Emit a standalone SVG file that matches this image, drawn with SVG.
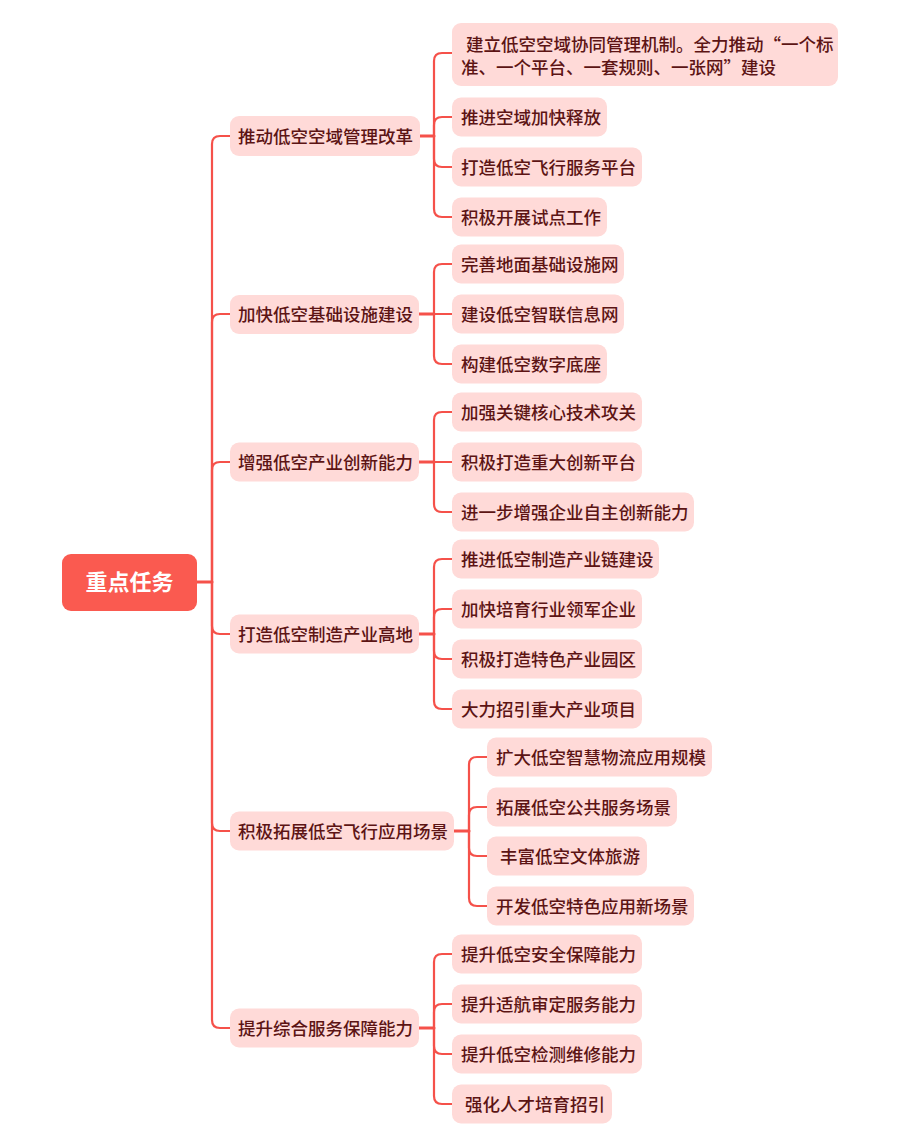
<svg xmlns="http://www.w3.org/2000/svg" width="902" height="1144" viewBox="0 0 902 1144">
<style>
.n rect{fill:#FFDAD8}
.n text{font-family:"Noto Sans CJK SC","Liberation Sans",sans-serif;font-size:17.5px;font-weight:500;fill:#5C1414}
.root rect{fill:#FA5A50}
.root text{font-family:"Noto Sans CJK SC","Liberation Sans",sans-serif;font-size:22px;font-weight:bold;fill:#FFFFFF}
.c path{fill:none;stroke:#F5514A;stroke-width:2.2;stroke-linecap:round}
.c path.s{stroke-width:3}
</style>
<rect width="902" height="1144" fill="#FFFFFF"/>
<g class="c" id="connectors">
<path class="s" d="M197,582 H212"/>
<path d="M212,582 V144 Q212,136 220,136 H230"/>
<path d="M212,582 V322 Q212,314 220,314 H230"/>
<path d="M212,582 V470 Q212,462 220,462 H230"/>
<path d="M212,582 V626 Q212,634 220,634 H230"/>
<path d="M212,582 V823 Q212,831 220,831 H230"/>
<path d="M212,582 V1020 Q212,1028 220,1028 H230"/>
<path class="s" d="M420,136 H434"/>
<path d="M434,136 V61 Q434,53 442,53 H452"/>
<path d="M434,136 V125 Q434,117 442,117 H452"/>
<path d="M434,136 V159 Q434,167 442,167 H452"/>
<path d="M434,136 V209 Q434,217 442,217 H452"/>
<path class="s" d="M419,314 H434"/>
<path d="M434,314 V272 Q434,264 442,264 H452"/>
<path d="M434,314 H452"/>
<path d="M434,314 V356 Q434,364 442,364 H452"/>
<path class="s" d="M419,462 H434"/>
<path d="M434,462 V420 Q434,412 442,412 H452"/>
<path d="M434,462 H452"/>
<path d="M434,462 V504 Q434,512 442,512 H452"/>
<path class="s" d="M419,634 H434"/>
<path d="M434,634 V567 Q434,559 442,559 H452"/>
<path d="M434,634 V617 Q434,609 442,609 H452"/>
<path d="M434,634 V651 Q434,659 442,659 H452"/>
<path d="M434,634 V701 Q434,709 442,709 H452"/>
<path class="s" d="M454,831 H469"/>
<path d="M469,831 V765 Q469,757 477,757 H487"/>
<path d="M469,831 V815 Q469,807 477,807 H487"/>
<path d="M469,831 V848 Q469,856 477,856 H487"/>
<path d="M469,831 V898 Q469,906 477,906 H487"/>
<path class="s" d="M419,1028 H434"/>
<path d="M434,1028 V962 Q434,954 442,954 H452"/>
<path d="M434,1028 V1012 Q434,1004 442,1004 H452"/>
<path d="M434,1028 V1046 Q434,1054 442,1054 H452"/>
<path d="M434,1028 V1096 Q434,1104 442,1104 H452"/>
</g>
<g class="root" id="root"><rect x="62" y="554" width="135" height="57" rx="9"/><text x="129.5" y="590" text-anchor="middle">重点任务</text></g>

<g class="n" id="a"><rect x="230" y="116" width="190" height="40" rx="9"/><text x="238" y="142.5">推动低空空域管理改革</text></g>
<g class="n" id="a1"><rect x="452" y="23" width="386" height="63" rx="9"/><text x="466" y="51">建立低空空域协同管理机制。全力推动“一个标</text><text x="461" y="74">准、一个平台、一套规则、一张网”建设</text></g>
<g class="n" id="a2"><rect x="452" y="97.5" width="155" height="39" rx="9"/><text x="461" y="123.5">推进空域加快释放</text></g>
<g class="n" id="a3"><rect x="452" y="147.5" width="190" height="39" rx="9"/><text x="461" y="173.5">打造低空飞行服务平台</text></g>
<g class="n" id="a4"><rect x="452" y="197.5" width="155" height="39" rx="9"/><text x="461" y="223.5">积极开展试点工作</text></g>

<g class="n" id="b"><rect x="230" y="295" width="189" height="39" rx="9"/><text x="238" y="321">加快低空基础设施建设</text></g>
<g class="n" id="b1"><rect x="452" y="244.5" width="172" height="39" rx="9"/><text x="461" y="270.5">完善地面基础设施网</text></g>
<g class="n" id="b2"><rect x="452" y="294.5" width="172" height="39" rx="9"/><text x="461" y="320.5">建设低空智联信息网</text></g>
<g class="n" id="b3"><rect x="452" y="344.5" width="155" height="39" rx="9"/><text x="461" y="370.5">构建低空数字底座</text></g>

<g class="n" id="c"><rect x="230" y="442.5" width="189" height="39" rx="9"/><text x="238" y="468.5">增强低空产业创新能力</text></g>
<g class="n" id="c1"><rect x="452" y="392.5" width="190" height="39" rx="9"/><text x="461" y="418.5">加强关键核心技术攻关</text></g>
<g class="n" id="c2"><rect x="452" y="442.5" width="190" height="39" rx="9"/><text x="461" y="468.5">积极打造重大创新平台</text></g>
<g class="n" id="c3"><rect x="452" y="492.5" width="242" height="39" rx="9"/><text x="461" y="518.5">进一步增强企业自主创新能力</text></g>

<g class="n" id="d"><rect x="230" y="614.5" width="189" height="39" rx="9"/><text x="238" y="640.5">打造低空制造产业高地</text></g>
<g class="n" id="d1"><rect x="452" y="539.5" width="207" height="39" rx="9"/><text x="461" y="565.5">推进低空制造产业链建设</text></g>
<g class="n" id="d2"><rect x="452" y="589.5" width="190" height="39" rx="9"/><text x="461" y="615.5">加快培育行业领军企业</text></g>
<g class="n" id="d3"><rect x="452" y="639.5" width="190" height="39" rx="9"/><text x="461" y="665.5">积极打造特色产业园区</text></g>
<g class="n" id="d4"><rect x="452" y="689.5" width="190" height="39" rx="9"/><text x="461" y="715.5">大力招引重大产业项目</text></g>

<g class="n" id="e"><rect x="230" y="811.5" width="224" height="39" rx="9"/><text x="238" y="837.5">积极拓展低空飞行应用场景</text></g>
<g class="n" id="e1"><rect x="487" y="737.5" width="225" height="39" rx="9"/><text x="496" y="763.5">扩大低空智慧物流应用规模</text></g>
<g class="n" id="e2"><rect x="487" y="787.5" width="190" height="39" rx="9"/><text x="496" y="813.5">拓展低空公共服务场景</text></g>
<g class="n" id="e3"><rect x="487" y="836.5" width="160" height="39" rx="9"/><text x="500" y="862.5">丰富低空文体旅游</text></g>
<g class="n" id="e4"><rect x="487" y="886.5" width="207" height="39" rx="9"/><text x="496" y="912.5">开发低空特色应用新场景</text></g>

<g class="n" id="f"><rect x="230" y="1008.5" width="189" height="39" rx="9"/><text x="238" y="1034.5">提升综合服务保障能力</text></g>
<g class="n" id="f1"><rect x="452" y="934.5" width="190" height="39" rx="9"/><text x="461" y="960.5">提升低空安全保障能力</text></g>
<g class="n" id="f2"><rect x="452" y="984.5" width="190" height="39" rx="9"/><text x="461" y="1010.5">提升适航审定服务能力</text></g>
<g class="n" id="f3"><rect x="452" y="1034.5" width="190" height="39" rx="9"/><text x="461" y="1060.5">提升低空检测维修能力</text></g>
<g class="n" id="f4"><rect x="452" y="1084.5" width="160" height="39" rx="9"/><text x="465" y="1110.5">强化人才培育招引</text></g>
</svg>
